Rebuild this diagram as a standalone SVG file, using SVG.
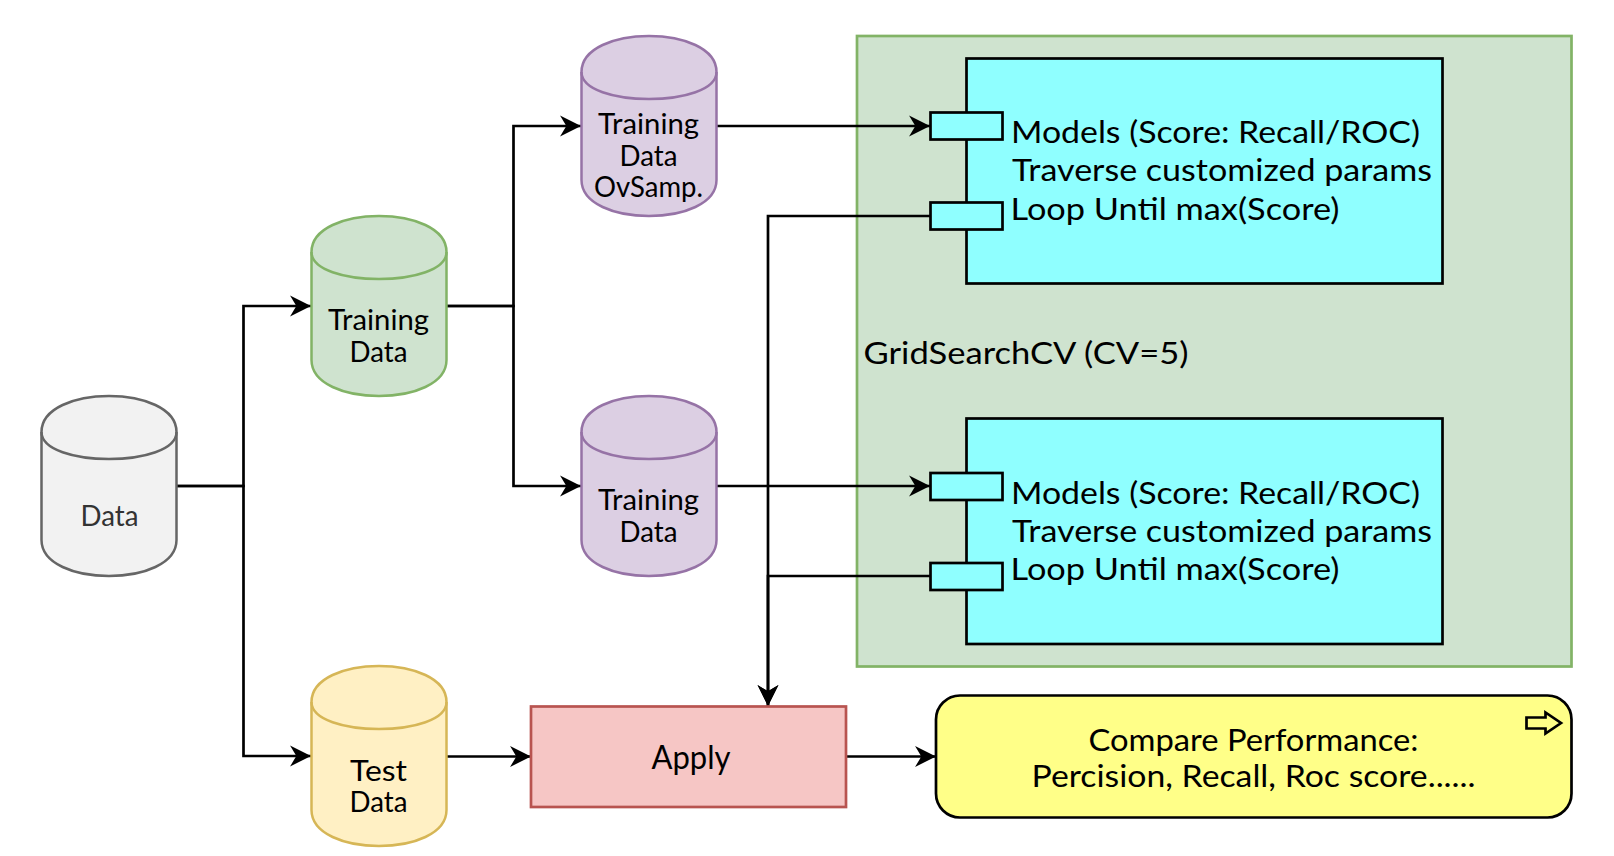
<svg xmlns="http://www.w3.org/2000/svg" width="1614" height="856" viewBox="0 0 1614 856">
<defs>
<style>
text{font-family:"Lato","Noto Sans",sans-serif;fill:#000}
.c{font-size:28px;text-anchor:middle}
.m{font-size:31px}
.l{font-size:31px;text-anchor:middle}
.e{fill:none;stroke:#000;stroke-width:2.7}
.b{stroke-width:2.7}
.cy{stroke-width:2.5}
</style>
<marker id="a" markerUnits="userSpaceOnUse" markerWidth="22" markerHeight="22" refX="20" refY="10.5" viewBox="0 0 21 21" orient="auto"><path d="M20 10.5L0 .5L6 10.5L0 20.5Z" fill="#000"/></marker>
<g id="cyl"><path d="M0 36C0-12 135-12 135 36V144C135 192 0 192 0 144Z"/><path fill="none" d="M0 36C0 72 135 72 135 36"/></g>
</defs>
<rect width="1614" height="856" fill="#fff"/>
<g id="gridsearch"><rect x="857" y="36" width="714.500" height="630.500" fill="#cfe3cf" stroke="#82b366" stroke-width="2.7"/>
<text class="m" x="863.500" y="364" textLength="325" lengthAdjust="spacingAndGlyphs">GridSearchCV  (CV=5)</text></g>
<g id="module1"><rect class="b" x="966.500" y="58.500" width="476" height="225" fill="#8fffff" stroke="#000"/>
<rect class="b" x="930.500" y="112.500" width="72" height="27" fill="#8fffff" stroke="#000"/>
<rect class="b" x="930.500" y="202.500" width="72" height="27" fill="#8fffff" stroke="#000"/>
<text class="m" x="1011" y="143" textLength="409" lengthAdjust="spacingAndGlyphs">Models (Score: Recall/ROC)</text>
<text class="m" x="1012" y="181" textLength="420" lengthAdjust="spacingAndGlyphs">Traverse customized params</text>
<text class="m" x="1010.500" y="219.500" textLength="329" lengthAdjust="spacingAndGlyphs">Loop Until max(Score)</text></g>
<g id="module2"><rect class="b" x="966.500" y="418.500" width="476" height="225.500" fill="#8fffff" stroke="#000"/>
<rect class="b" x="930.500" y="473" width="72" height="27" fill="#8fffff" stroke="#000"/>
<rect class="b" x="930.500" y="563" width="72" height="27" fill="#8fffff" stroke="#000"/>
<text class="m" x="1011" y="504" textLength="409" lengthAdjust="spacingAndGlyphs">Models (Score: Recall/ROC)</text>
<text class="m" x="1012" y="541.500" textLength="420" lengthAdjust="spacingAndGlyphs">Traverse customized params</text>
<text class="m" x="1010.500" y="580" textLength="329" lengthAdjust="spacingAndGlyphs">Loop Until max(Score)</text></g>
<g id="connectors" class="e">
<path d="M176.500 486H243.500V306H311" marker-end="url(#a)"/>
<path d="M176.500 486H243.500V756H311" marker-end="url(#a)"/>
<path d="M446.500 306H513.500V126H581" marker-end="url(#a)"/>
<path d="M446.500 306H513.500V486H581" marker-end="url(#a)"/>
<path d="M716.500 126H930" marker-end="url(#a)"/>
<path d="M716.500 486H930" marker-end="url(#a)"/>
<path d="M930 216H768V706" marker-end="url(#a)"/>
<path d="M930 576H768V706" marker-end="url(#a)"/>
<path d="M446.500 756.500H531" marker-end="url(#a)"/>
<path d="M846.500 756.500H936" marker-end="url(#a)"/>
</g>
<g id="data"><use href="#cyl" x="41.500" y="396" fill="#f2f2f2" stroke="#666" class="cy"/>
<text class="c" x="109.500" y="526" textLength="58" lengthAdjust="spacingAndGlyphs" style="fill:#333">Data</text></g>
<g id="training"><use href="#cyl" x="311.500" y="216" fill="#cfe3cf" stroke="#82b366" class="cy"/>
<text class="c" x="378.500" y="329.500" textLength="101" lengthAdjust="spacingAndGlyphs">Training</text>
<text class="c" x="378.500" y="362" textLength="58" lengthAdjust="spacingAndGlyphs">Data</text></g>
<g id="test"><use href="#cyl" x="311.500" y="666" fill="#fff0c4" stroke="#d6b656" class="cy"/>
<text class="c" x="378.500" y="781" textLength="57" lengthAdjust="spacingAndGlyphs">Test</text>
<text class="c" x="378.500" y="812" textLength="58" lengthAdjust="spacingAndGlyphs">Data</text></g>
<g id="oversampled"><use href="#cyl" x="581.500" y="36" fill="#dccfe3" stroke="#9673a6" class="cy"/>
<text class="c" x="648.500" y="134" textLength="101" lengthAdjust="spacingAndGlyphs">Training</text>
<text class="c" x="648.500" y="166" textLength="58" lengthAdjust="spacingAndGlyphs">Data</text>
<text class="c" x="648.500" y="197" textLength="109" lengthAdjust="spacingAndGlyphs">OvSamp.</text></g>
<g id="training2"><use href="#cyl" x="581.500" y="396" fill="#dccfe3" stroke="#9673a6" class="cy"/>
<text class="c" x="648.500" y="510" textLength="101" lengthAdjust="spacingAndGlyphs">Training</text>
<text class="c" x="648.500" y="542" textLength="58" lengthAdjust="spacingAndGlyphs">Data</text></g>
<g id="apply"><rect x="531" y="706.500" width="315" height="100.500" fill="#f6c6c5" stroke="#b85450" stroke-width="2.7"/>
<text class="l" x="691" y="769" textLength="79" lengthAdjust="spacingAndGlyphs" style="font-size:32px">Apply</text></g>
<g id="compare"><rect x="936" y="695.500" width="635.500" height="122" rx="24" ry="24" fill="#ffff88" stroke="#000" stroke-width="2.7"/>
<path d="M1526.500 717.500H1545.500V712.500L1561 723L1545.500 733.500V728.500H1526.500Z" fill="none" stroke="#000" stroke-width="2.7"/>
<text class="l" x="1253.500" y="750.500" textLength="330" lengthAdjust="spacingAndGlyphs">Compare Performance:</text>
<text class="l" x="1253.500" y="787" textLength="444" lengthAdjust="spacingAndGlyphs">Percision, Recall, Roc score......</text></g>
</svg>
